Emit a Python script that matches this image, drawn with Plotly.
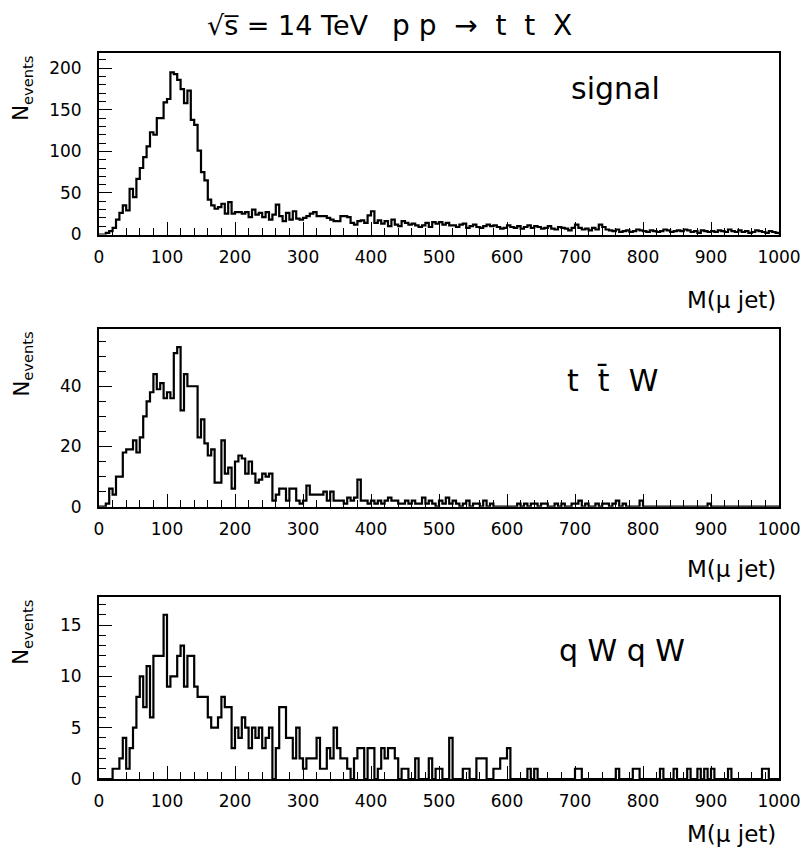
import plotly.graph_objects as go

# ---------------- data (bin width 5 GeV, 0..1000) ----------------
BIN_WIDTH = 5
X_MIN = 0

signal = [
    0, 0, 2, 4, 8, 18, 26, 35, 29, 55,
    45, 67, 80, 93, 106, 123, 120, 140, 140, 159,
    163, 195, 193, 186, 175, 158, 173, 138, 132, 101,
    75, 65, 42, 35, 31, 33, 37, 25, 39, 25,
    27, 27, 25, 27, 21, 30, 24, 26, 21, 27,
    18, 24, 36, 22, 16, 26, 18, 28, 19, 18,
    20, 22, 25, 27, 22, 22, 22, 20, 18, 16,
    16, 22, 22, 21, 14, 12, 16, 17, 14, 23,
    28, 14, 17, 13, 16, 10, 18, 12, 10, 16,
    14, 12, 13, 11, 9, 11, 14, 9, 15, 13,
    15, 12, 14, 11, 11, 9, 12, 13, 8, 10,
    12, 9, 8, 10, 12, 10, 11, 9, 7, 8,
    11, 9, 8, 10, 7, 9, 11, 8, 10, 9,
    7, 8, 10, 7, 6, 9, 8, 7, 5, 8,
    12, 8, 6, 7, 5, 8, 6, 12, 9, 6,
    5, 4, 6, 3, 4, 5, 3, 4, 6, 5,
    4, 3, 5, 4, 3, 4, 6, 5, 3, 4,
    5, 4, 6, 5, 3, 4, 2, 5, 4, 3,
    4, 3, 5, 4, 3, 6, 4, 3, 5, 3,
    4, 2, 3, 5, 4, 3, 2, 4, 3, 2,
]

ttw = [
    0, 0, 1, 6, 4, 10, 10, 18, 19, 19,
    22, 18, 23, 30, 35, 38, 44, 39, 41, 36,
    38, 36, 51, 53, 32, 44, 40, 40, 40, 23,
    29, 21, 17, 19, 8, 8, 22, 11, 13, 6,
    15, 17, 16, 11, 15, 11, 8, 9, 11, 10,
    11, 2, 4, 6, 6, 2, 6, 6, 2, 1,
    2, 7, 4, 4, 4, 4, 5, 2, 5, 2,
    2, 2, 1, 3, 2, 3, 9, 2, 2, 1,
    2, 1, 2, 1, 2, 3, 2, 2, 1, 1,
    2, 1, 2, 1, 1, 3, 1, 2, 1, 0,
    2, 1, 3, 1, 2, 1, 0, 1, 2, 0,
    1, 1, 0, 2, 0, 1, 0, 0, 0, 0,
    0, 0, 0, 1, 0, 1, 0, 1, 1, 0,
    1, 1, 0, 0, 1, 0, 1, 0, 0, 1,
    1, 2, 0, 1, 0, 0, 1, 0, 1, 1,
    0, 1, 2, 0, 1, 0, 0, 0, 0, 2,
    0, 0, 0, 0, 0, 0, 0, 0, 0, 0,
    0, 0, 0, 0, 0, 0, 0, 0, 0, 1,
    0, 0, 0, 0, 0, 0, 0, 0, 0, 0,
    0, 0, 0, 0, 0, 0, 0, 0, 0, 0,
]

qwqw = [
    0, 0, 0, 0, 1, 1, 2, 4, 1, 3,
    5, 8, 10, 7, 11, 6, 12, 12, 12, 16,
    9, 10, 10, 12, 13, 9, 12, 12, 9, 8,
    8, 8, 6, 5, 5, 6, 8, 7, 7, 3,
    5, 4, 6, 5, 3, 5, 4, 5, 3, 4,
    5, 0, 3, 7, 7, 4, 4, 2, 5, 2,
    1, 2, 2, 2, 4, 1, 1, 3, 2, 5,
    3, 2, 2, 1, 0, 2, 3, 3, 0, 3,
    3, 0, 1, 3, 2, 3, 3, 2, 0, 1,
    1, 0, 0, 2, 0, 0, 0, 2, 0, 1,
    1, 0, 0, 4, 0, 0, 0, 1, 1, 0,
    0, 2, 2, 2, 0, 0, 1, 1, 2, 2,
    3, 0, 0, 0, 0, 0, 1, 0, 1, 0,
    0, 0, 0, 0, 0, 0, 0, 0, 0, 0,
    1, 1, 0, 0, 0, 0, 0, 0, 0, 0,
    0, 0, 1, 0, 0, 0, 0, 1, 1, 0,
    0, 0, 0, 0, 0, 1, 0, 0, 0, 1,
    0, 0, 0, 1, 0, 0, 1, 0, 1, 0,
    1, 0, 0, 0, 0, 1, 0, 0, 0, 0,
    0, 0, 0, 0, 0, 1, 1, 0, 0, 0,
]

x_tick_vals = [0, 100, 200, 300, 400, 500, 600, 700, 800, 900, 1000]
y_ticks_signal = [0, 50, 100, 150, 200]
y_ticks_ttw = [0, 20, 40]
y_ticks_qwqw = [0, 5, 10, 15]

labels = ["signal", "t\u00a0 t\u0304\u00a0 W", "q W q W"]

# ---------------- layout helpers ----------------
# page body keeps its default 8px margin, so the figure is drawn a bit smaller
OFF = 8
W, H = 793, 841


def fx(p):
    return (p - OFF) / W


def fy(p):
    return 1 - (p - OFF) / H


panels = [
    dict(vals=signal, top=53.3, bottom=234.5, ymax=218, yticks=y_ticks_signal,
         minor=10, label=labels[0], lx=615, ly=88, mx=300),
    dict(vals=ttw, top=329, bottom=506.7, ymax=59, yticks=y_ticks_ttw,
         minor=5, label=labels[1], lx=612, ly=380, mx=569),
    dict(vals=qwqw, top=597.3, bottom=779, ymax=17.7, yticks=y_ticks_qwqw,
         minor=1, label=labels[2], lx=622, ly=650, mx=834),
]

FONT = "DejaVu Sans"
fig = go.Figure()
annotations = []

for i, p in enumerate(panels, start=1):
    vals = list(p["vals"])
    edges = [X_MIN + k * BIN_WIDTH for k in range(len(vals) + 1)]
    xs = [edges[0]] + edges + [edges[-1]]
    ys = [0] + vals + [vals[-1], 0]
    sfx = "" if i == 1 else str(i)
    fig.add_trace(go.Scatter(
        x=xs, y=ys, mode="lines", line=dict(color="black", width=2.2, shape="hv"),
        xaxis="x" + sfx, yaxis="y" + sfx, showlegend=False, hoverinfo="skip",
    ))
    xd = dict(
        domain=[fx(99), fx(779)], range=[0, 1000], anchor="y" + sfx,
        showline=True, linecolor="black", linewidth=2, mirror=True,
        ticks="inside", ticklen=13, tickwidth=1.3, tickcolor="black",
        tickvals=x_tick_vals, ticktext=[str(v) for v in x_tick_vals],
        minor=dict(dtick=20, tick0=0, ticks="inside", ticklen=7, tickwidth=1.3, tickcolor="black"),
        showgrid=False, zeroline=False, automargin=False,
        tickfont=dict(family=FONT, size=17, color="black"),
        ticklabelstandoff=6, ticklabeloverflow="allow",
    )
    yd = dict(
        domain=[fy(p["bottom"]), fy(p["top"])], range=[0, p["ymax"]], anchor="x" + sfx,
        showline=True, linecolor="black", linewidth=2, mirror=True,
        ticks="inside", ticklen=13, tickwidth=1.3, tickcolor="black",
        tickvals=p["yticks"], ticktext=[str(v) for v in p["yticks"]],
        minor=dict(dtick=p["minor"], tick0=0, ticks="inside", ticklen=7, tickwidth=1.3, tickcolor="black"),
        showgrid=False, zeroline=False, automargin=False,
        tickfont=dict(family=FONT, size=17, color="black"),
        ticklabelstandoff=12,
    )
    fig.update_layout(**{"xaxis" + sfx: xd, "yaxis" + sfx: yd})

    annotations.append(dict(
        text=p["label"], x=fx(p["lx"]), y=fy(p["ly"]), xref="paper", yref="paper",
        xanchor="center", yanchor="middle", showarrow=False,
        font=dict(family="DejaVu Sans", size=30, color="black"),
    ))
    annotations.append(dict(
        text="M(\u03bc jet)", x=fx(778), y=fy(p["mx"]), xref="paper", yref="paper",
        xanchor="right", yanchor="middle", showarrow=False,
        font=dict(family="DejaVu Sans", size=23, color="black"),
    ))
    annotations.append(dict(
        text="N<sub>events</sub>", x=fx(22), y=fy(p["top"] + 1), xref="paper", yref="paper",
        xanchor="center", yanchor="top", showarrow=False, textangle=-90,
        font=dict(family="DejaVu Sans", size=21, color="black"),
    ))

annotations.append(dict(
    text="\u221as\u0305 = 14 TeV", x=fx(205), y=fy(25), xref="paper", yref="paper",
    xanchor="left", yanchor="middle", showarrow=False,
    font=dict(family="DejaVu Sans", size=27, color="black"),
))
annotations.append(dict(
    text="p\u00a0p\u00a0\u00a0\u2192\u00a0\u00a0t\u00a0\u00a0t\u00a0\u00a0X", x=fx(390), y=fy(25),
    xref="paper", yref="paper",
    xanchor="left", yanchor="middle", showarrow=False,
    font=dict(family="DejaVu Sans", size=28, color="black"),
))

fig.update_layout(
    width=W, height=H, margin=dict(l=0, r=0, t=0, b=0, autoexpand=False),
    paper_bgcolor="white", plot_bgcolor="white",
    annotations=annotations,
)

fig.write_html("out.html")
